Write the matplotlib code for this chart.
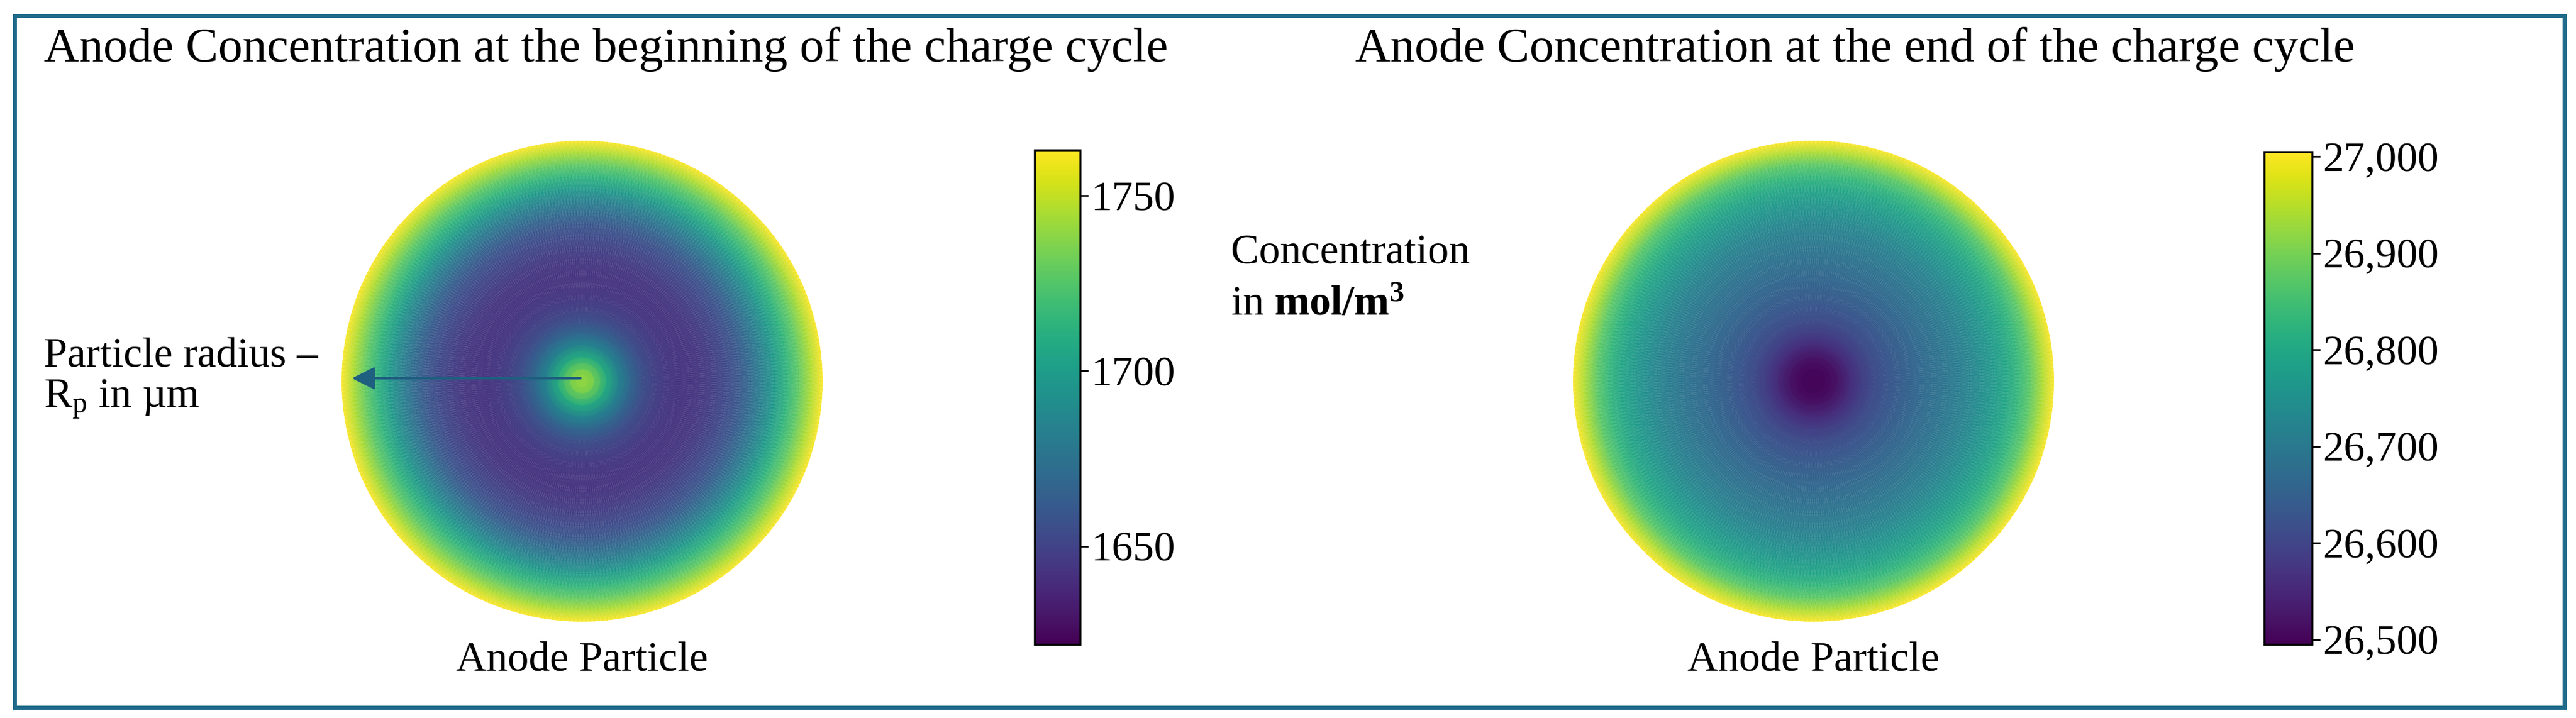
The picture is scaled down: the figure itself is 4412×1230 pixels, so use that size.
import numpy as np
import matplotlib
matplotlib.use("Agg")
import matplotlib.pyplot as plt
from matplotlib.patches import Rectangle

# radial profiles (normalized radius r/Rp)
radius = [0.0, 0.05, 0.1, 0.15, 0.2, 0.25, 0.3, 0.35, 0.4, 0.45, 0.5, 0.55, 0.6, 0.65, 0.7, 0.75, 0.8, 0.85, 0.9, 0.95, 1.0]
conc_begin = [1745, 1732, 1708, 1685, 1668, 1656, 1649, 1645, 1643, 1643, 1645, 1648, 1653, 1660, 1670, 1683, 1698, 1713, 1728, 1745, 1763]
conc_end = [26500, 26505, 26525, 26560, 26590, 26612, 26628, 26642, 26655, 26667, 26680, 26693, 26708, 26725, 26745, 26768, 26795, 26830, 26875, 26940, 27005]
cb_begin_ticks = [1650, 1700, 1750]
cb_end_ticks = [26500, 26600, 26700, 26800, 26900, 27000]
titles = ["Anode Concentration at the beginning of the charge cycle",
          "Anode Concentration at the end of the charge cycle"]

W, H = 4412, 1230
fig = plt.figure(figsize=(W/100, H/100), dpi=100)
plt.rcParams['font.family'] = ['Liberation Serif', 'DejaVu Serif']
plt.rcParams['mathtext.fontset'] = 'custom'
plt.rcParams['mathtext.rm'] = 'Liberation Serif'
plt.rcParams['mathtext.it'] = 'Liberation Serif:italic'
plt.rcParams['mathtext.bf'] = 'Liberation Serif:bold'

def fx(x): return x / W
def fy(y): return 1 - y / H

def box(x0, y0, x1, y1):
    return [fx(x0), fy(y1), (x1 - x0) / W, (y1 - y0) / H]

theta = np.linspace(0, 2*np.pi, 361)

def disc(cx, cy, r, vals, vmin, vmax):
    ax = fig.add_axes(box(cx - r, cy - r, cx + r, cy + r), projection='polar')
    R, T = np.meshgrid(radius, theta)
    C = np.tile(np.array(vals, float), (len(theta), 1))
    m = ax.pcolormesh(T, R, C, cmap='viridis', vmin=vmin, vmax=vmax,
                      shading='gouraud', alpha=0.88)
    ax.set_ylim(0, 1)
    ax.axis('off')
    return m

def cbar(m, x0, y0, x1, y1, ticks, fmt):
    cax = fig.add_axes(box(x0, y0, x1, y1))
    sm = matplotlib.cm.ScalarMappable(norm=m.norm, cmap='viridis')
    cb = fig.colorbar(sm, cax=cax, ticks=ticks)
    cb.ax.set_yticklabels([fmt(t) for t in ticks])
    cb.ax.tick_params(labelsize=52, length=10, width=2)
    cb.outline.set_linewidth(2.5)

m1 = disc(997, 653, 412, conc_begin, 1622, 1763)
m2 = disc(3106, 653, 412, conc_end, 26495, 27005)
cbar(m1, 1772, 257, 1850, 1104, cb_begin_ticks, lambda t: f"{t}")
cbar(m2, 3878, 260, 3960, 1104, cb_end_ticks, lambda t: f"{t:,}")

fig.text(fx(75), fy(105), titles[0], fontsize=60, va='baseline', ha='left')
fig.text(fx(2321), fy(105), titles[1], fontsize=60, va='baseline', ha='left')
fig.text(fx(997), fy(1150), "Anode Particle", fontsize=52, va='baseline', ha='center')
fig.text(fx(3106), fy(1150), "Anode Particle", fontsize=52, va='baseline', ha='center')
fig.text(fx(75), fy(628), "Particle radius –", fontsize=52, va='baseline', ha='left')
fig.text(fx(75), fy(698), r"R$_\mathrm{p}$ in µm", fontsize=52, va='baseline', ha='left')
fig.text(fx(2108), fy(452), "Concentration", fontsize=52, va='baseline', ha='left')
fig.text(fx(2108), fy(540), "in $\\mathbf{mol/m^3}$", fontsize=52, va='baseline', ha='left')

fig.add_artist(matplotlib.patches.FancyArrowPatch((fx(997), fy(648)), (fx(600), fy(648)),
               transform=fig.transFigure, arrowstyle='-|>', mutation_scale=60,
               color='#1f5f80', lw=3))

fig.add_artist(Rectangle((fx(25), fy(1212)), (4392 - 25) / W, (1212 - 27) / H,
               transform=fig.transFigure, fill=False, edgecolor='#1f6a8a', lw=5))
fig.savefig("out.png", dpi=100)
